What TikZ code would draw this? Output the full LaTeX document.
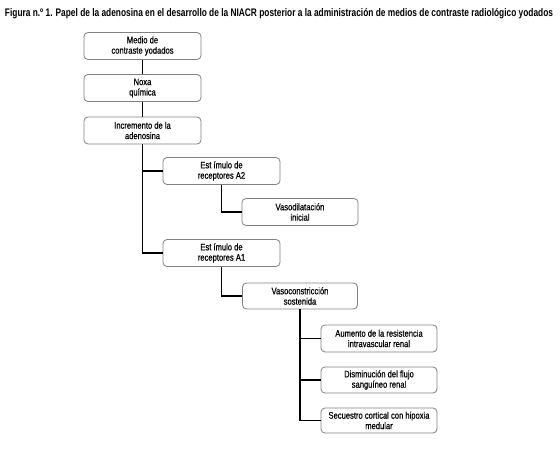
\documentclass[tikz,border=0pt]{standalone}
\usepackage{fontspec}
\usepackage{graphicx}
\setmainfont{Liberation Sans}[FakeStretch=0.8]
\newfontfamily\boxfont{Liberation Sans}[FakeStretch=0.8,FakeBold=0.5]
\begin{document}
\begin{tikzpicture}[x=1pt,y=-1pt,
  box/.style={draw=black!50,line width=0.8pt,rounded corners=4pt,fill=white,
    minimum width=117pt,minimum height=27pt,inner sep=1pt,align=center,
    font=\boxfont\fontsize{9.5}{10.4}\selectfont},
  link/.style={line width=1.8pt,black}]
\useasboundingbox (0,0) rectangle (560,452);
\node[font=\bfseries\fontsize{11}{12}\selectfont] (title) at (279,14)
  {\resizebox{548pt}{\height}{Figura n.º 1. Papel de la adenosina en el desarrollo de la NIACR posterior a la administración de medios de contraste radiológico yodados}};
\node[box] (b1) at (142.5,46) {Medio de\\contraste yodados};
\node[box] (b2) at (142.5,88) {Noxa\\química};
\node[box] (b3) at (142.5,130.5) {Incremento de la\\adenosina};
\node[box] (b4) at (221.5,171) {Est ímulo de\\receptores A2};
\node[box,minimum width=116pt] (b5) at (300,212) {Vasodilatación\\inicial};
\node[box] (b6) at (221.5,253) {Est ímulo de\\receptores A1};
\node[box,minimum width=115pt,minimum height=26pt] (b7) at (300,296) {Vasoconstricción\\sostenida};
\node[box,minimum width=116pt] (b8) at (379,338.5) {Aumento de la resistencia\\intravascular renal};
\node[box,minimum width=116pt,minimum height=26pt] (b9) at (379,380) {Disminución del flujo\\sanguíneo renal};
\node[box,minimum width=116pt,minimum height=25pt] (b10) at (379,420.5) {Secuestro cortical con hipoxia\\medular};
\draw[link] (b1.south) -- (b2.north);
\draw[link] (b2.south) -- (b3.north);
\draw[link] (b3.south) |- (b6.west);
\draw[link] (b3.south |- b4.west) -- (b4.west);
\draw[link] (b4.south) |- (b5.west);
\draw[link] (b6.south) |- (b7.west);
\draw[link] (b7.south) |- (b10.west);
\draw[link] (b7.south |- b8.west) -- (b8.west);
\draw[link] (b7.south |- b9.west) -- (b9.west);
\end{tikzpicture}
\end{document}
